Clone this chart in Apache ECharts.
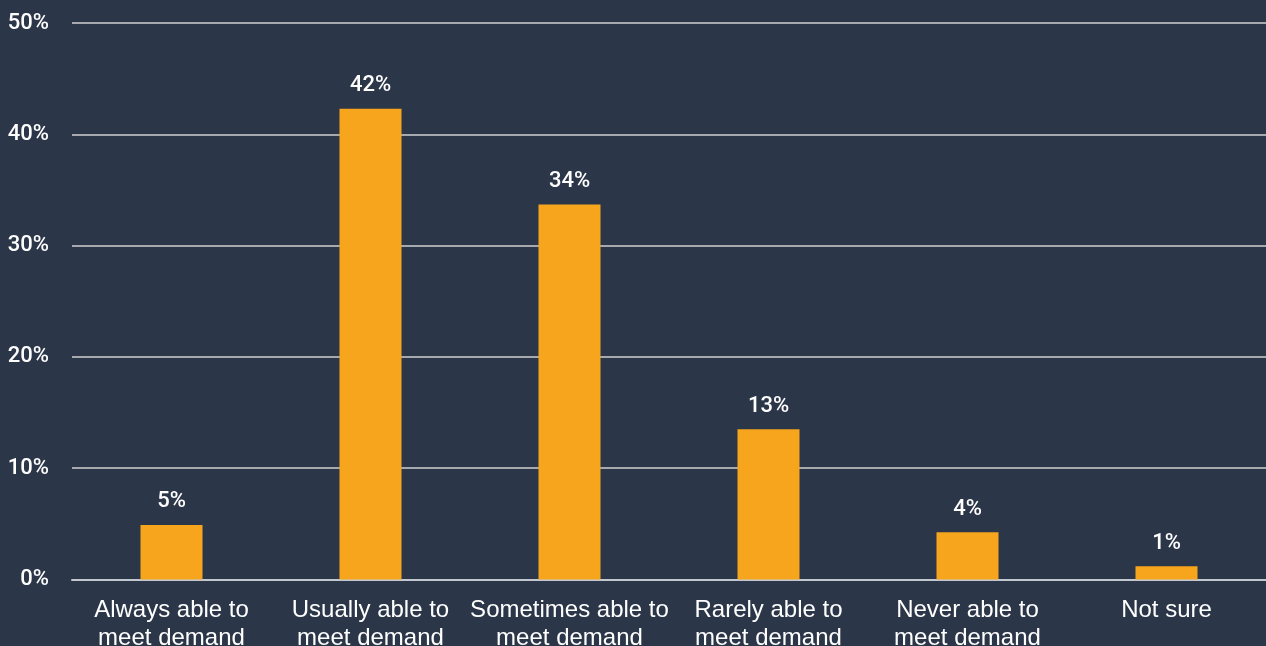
<!DOCTYPE html>
<html>
<head>
<meta charset="utf-8">
<script src="https://cdn.jsdelivr.net/npm/echarts@6/dist/echarts.min.js"></script>
<style>
html,body{margin:0;padding:0;background:#2c3649;}
#chart{width:1266px;height:646px;}
</style>
</head>
<body>
<div id="chart"></div>
<script>
const categories = ["Always able to\nmeet demand","Usually able to\nmeet demand","Sometimes able to\nmeet demand","Rarely able to\nmeet demand","Never able to\nmeet demand","Not sure"];
const values = [4.9, 42.3, 33.7, 13.5, 4.25, 1.2];
const valueLabels = ["5%","42%","34%","13%","4%","1%"];
const yTicks = [0, 10, 20, 30, 40, 50];

const chart = echarts.init(document.getElementById('chart'));
chart.setOption({
  backgroundColor: '#2c3649',
  animation: false,
  grid: {left: 72, right: 0, top: 23, bottom: 66.5, containLabel: false, outerBoundsMode: 'none'},
  xAxis: {
    type: 'category',
    data: categories,
    axisLine: {show: true, lineStyle: {color: '#c3c8d0', width: 2}},
    axisTick: {show: false},
    axisLabel: {
      color: '#ffffff', fontFamily: 'Liberation Sans, Arial, sans-serif',
      fontSize: 24, lineHeight: 28, margin: 17, interval: 0
    }
  },
  yAxis: {
    type: 'value',
    min: 0, max: 50, interval: 10,
    axisLine: {show: false},
    axisTick: {show: false},
    splitLine: {lineStyle: {color: '#a6a9ae', width: 2}},
    axisLabel: {
      color: '#ffffff', fontFamily: 'Roboto, sans-serif', fontSize: 22, fontWeight: 500,
      margin: 23,
      formatter: v => yTicks.includes(v) ? v + '%' : ''
    }
  },
  series: [{
    type: 'bar',
    data: values,
    barWidth: 62,
    itemStyle: {color: '#f7a51d'},
    label: {
      show: true, position: 'top', distance: 12,
      color: '#ffffff', fontFamily: 'Roboto, sans-serif', fontSize: 22, fontWeight: 500,
      formatter: p => valueLabels[p.dataIndex]
    }
  }]
});
</script>
</body>
</html>
